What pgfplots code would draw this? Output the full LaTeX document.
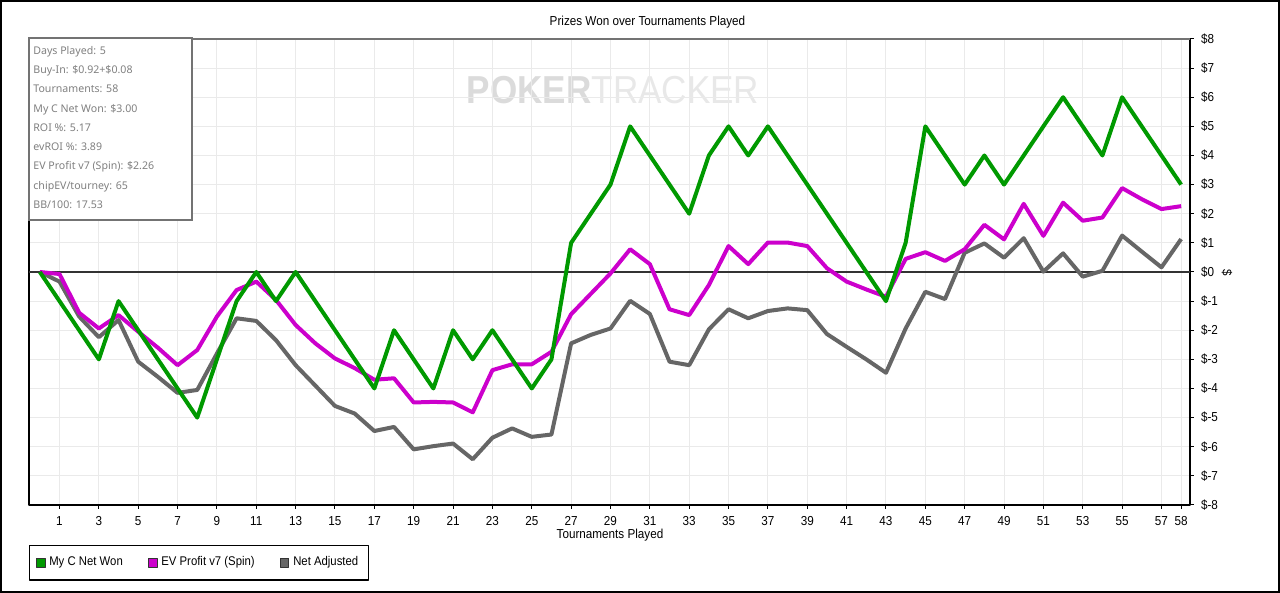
\documentclass[border=0pt]{standalone}
\usepackage{pgfplots}
\pgfplotsset{compat=1.18}
\usepackage{fontspec}
\setmainfont[FakeStretch=0.9]{Liberation Sans}
\newfontfamily\infofont{Noto Sans}
\definecolor{cgreen}{RGB}{0,153,0}
\definecolor{cmag}{RGB}{204,0,204}
\definecolor{cgray}{RGB}{102,102,102}
\definecolor{cgrid}{RGB}{234,234,234}
\definecolor{cinfo}{RGB}{128,128,128}
\begin{document}
\begin{tikzpicture}
\useasboundingbox (0,0) rectangle (640pt,296.5pt);
\draw[black, line width=1pt] (0.5pt,0.5pt) rectangle (639.5pt,296pt);
% watermark
\node[inner sep=0, font=\fontsize{19.5}{20}\selectfont] at (306.5pt,251.5pt)
  {\textcolor{black!14}{\bfseries POKER}\textcolor{black!9}{TRACKER}};
\node[font=\fontsize{6.5}{7.5}\selectfont] at (323.75pt,285.5pt) {Prizes Won over Tournaments Played};
\begin{axis}[
  at={(14.5pt,44pt)}, anchor=south west,
  scale only axis, width=580.5pt, height=233pt,
  xmin=-0.55, xmax=58.45, ymin=-8, ymax=8,
  xtick={1,3,5,7,9,11,13,15,17,19,21,23,25,27,29,31,33,35,37,39,41,43,45,47,49,51,53,55,57,58},
  ytick={-8,-7,-6,-5,-4,-3,-2,-1,0,1,2,3,4,5,6,7,8},
  yticklabels={\$-8,\$-7,\$-6,\$-5,\$-4,\$-3,\$-2,\$-1,\$0,\$1,\$2,\$3,\$4,\$5,\$6,\$7,\$8},
  /pgf/number format/assume math mode=true,
  yticklabel pos=right, ytick pos=right, xtick pos=bottom,
  tick align=outside, major tick length=2pt,
  tick style={black, line width=0.5pt},
  ticklabel style={font=\fontsize{6.5}{7.5}\selectfont},
  grid=major, grid style={cgrid, line width=0.5pt},
  axis line style={black, line width=0.6pt},
  extra y ticks={0}, extra y tick labels={},
  extra y tick style={grid=major, major grid style={black!80, line width=0.6pt}},
  legend style={at={(axis description cs:0,0)}, anchor=north west, yshift=-20pt,
    draw=black, line width=0.7pt, font=\fontsize{6.3}{7}\selectfont,
    inner xsep=3pt, inner ysep=3.5pt,
    /tikz/every even column/.append style={column sep=10.5pt}},
  legend columns=3,
  line join=round,
]
\addplot[cgray, line width=2pt, forget plot] coordinates {
(0,0)(1,-0.33)(2,-1.53)(3,-2.24)(4,-1.65)(5,-3.08)(6,-3.6)(7,-4.15)(8,-4.05)(9,-2.8)
(10,-1.59)(11,-1.68)(12,-2.34)(13,-3.2)(14,-3.9)(15,-4.6)(16,-4.86)(17,-5.46)(18,-5.32)(19,-6.09)
(20,-5.98)(21,-5.89)(22,-6.43)(23,-5.69)(24,-5.37)(25,-5.66)(26,-5.58)(27,-2.45)(28,-2.16)(29,-1.94)
(30,-0.99)(31,-1.44)(32,-3.08)(33,-3.2)(34,-1.97)(35,-1.28)(36,-1.59)(37,-1.34)(38,-1.25)(39,-1.31)
(40,-2.13)(41,-2.57)(42,-3.0)(43,-3.46)(44,-1.94)(45,-0.68)(46,-0.93)(47,0.66)(48,0.98)(49,0.49)
(50,1.16)(51,0.01)(52,0.64)(53,-0.16)(54,0.04)(55,1.25)(56,0.7)(57,0.16)(58,1.13)};
\addplot[cmag, line width=2pt, forget plot] coordinates {
(0,0)(1,-0.07)(2,-1.4)(3,-1.94)(4,-1.48)(5,-2.05)(6,-2.6)(7,-3.2)(8,-2.68)(9,-1.53)
(10,-0.62)(11,-0.33)(12,-0.96)(13,-1.82)(14,-2.45)(15,-2.97)(16,-3.3)(17,-3.7)(18,-3.65)(19,-4.48)
(20,-4.46)(21,-4.48)(22,-4.82)(23,-3.37)(24,-3.17)(25,-3.17)(26,-2.74)(27,-1.45)(28,-0.75)(29,-0.05)
(30,0.78)(31,0.27)(32,-1.28)(33,-1.48)(34,-0.45)(35,0.89)(36,0.27)(37,1.01)(38,1.01)(39,0.89)
(40,0.13)(41,-0.33)(42,-0.6)(43,-0.85)(44,0.45)(45,0.68)(46,0.38)(47,0.78)(48,1.62)(49,1.12)
(50,2.34)(51,1.24)(52,2.38)(53,1.76)(54,1.87)(55,2.88)(56,2.5)(57,2.16)(58,2.26)};
\addplot[cgreen, line width=2pt, forget plot] coordinates {
(0,0)(1,-1)(2,-2)(3,-3)(4,-1)(5,-2)(6,-3)(7,-4)(8,-5)(9,-3)
(10,-1)(11,0)(12,-1)(13,0)(14,-1)(15,-2)(16,-3)(17,-4)(18,-2)(19,-3)
(20,-4)(21,-2)(22,-3)(23,-2)(24,-3)(25,-4)(26,-3)(27,1)(28,2)(29,3)
(30,5)(31,4)(32,3)(33,2)(34,4)(35,5)(36,4)(37,5)(38,4)(39,3)
(40,2)(41,1)(42,0)(43,-1)(44,1)(45,5)(46,4)(47,3)(48,4)(49,3)
(50,4)(51,5)(52,6)(53,5)(54,4)(55,6)(56,5)(57,4)(58,3)};
\draw[black!55, line width=0.8pt] (rel axis cs:0,1) -- (rel axis cs:1,1);
\addlegendimage{legend image code/.code={\draw[fill=cgreen,draw=black!80,line width=0.4pt] (0pt,-2.2pt) rectangle (4.4pt,2.2pt);}}
\addlegendentry{My C Net Won}
\addlegendimage{legend image code/.code={\draw[fill=cmag,draw=black!80,line width=0.4pt] (0pt,-2.2pt) rectangle (4.4pt,2.2pt);}}
\addlegendentry{EV Profit v7 (Spin)}
\addlegendimage{legend image code/.code={\draw[fill=cgray,draw=black!80,line width=0.4pt] (0pt,-2.2pt) rectangle (4.4pt,2.2pt);}}
\addlegendentry{Net Adjusted}
\end{axis}
\node[font=\fontsize{6.5}{7.5}\selectfont] at (305pt,29pt) {Tournaments Played};
\node[font=\fontsize{6.5}{7.5}\selectfont, rotate=-90] at (613.5pt,160.2pt) {\$};
% info box
\draw[black!55, line width=0.6pt, fill=white] (14.5pt,186.5pt) rectangle (96pt,277.5pt);
\begin{scope}[every node/.style={anchor=base west, inner sep=0pt, text=cinfo, font=\infofont\fontsize{5.3}{6}\selectfont}]
\node at (16.5pt,269.4pt) {Days Played: 5};
\node at (16.5pt,259.75pt) {Buy-In: \$0.92+\$0.08};
\node at (16.5pt,250.1pt) {Tournaments: 58};
\node at (16.5pt,240.45pt) {My C Net Won: \$3.00};
\node at (16.5pt,230.8pt) {ROI \%: 5.17};
\node at (16.5pt,221.15pt) {evROI \%: 3.89};
\node at (16.5pt,211.5pt) {EV Profit v7 (Spin): \$2.26};
\node at (16.5pt,201.85pt) {chipEV/tourney: 65};
\node at (16.5pt,192.2pt) {BB/100: 17.53};
\end{scope}
\end{tikzpicture}
\end{document}
